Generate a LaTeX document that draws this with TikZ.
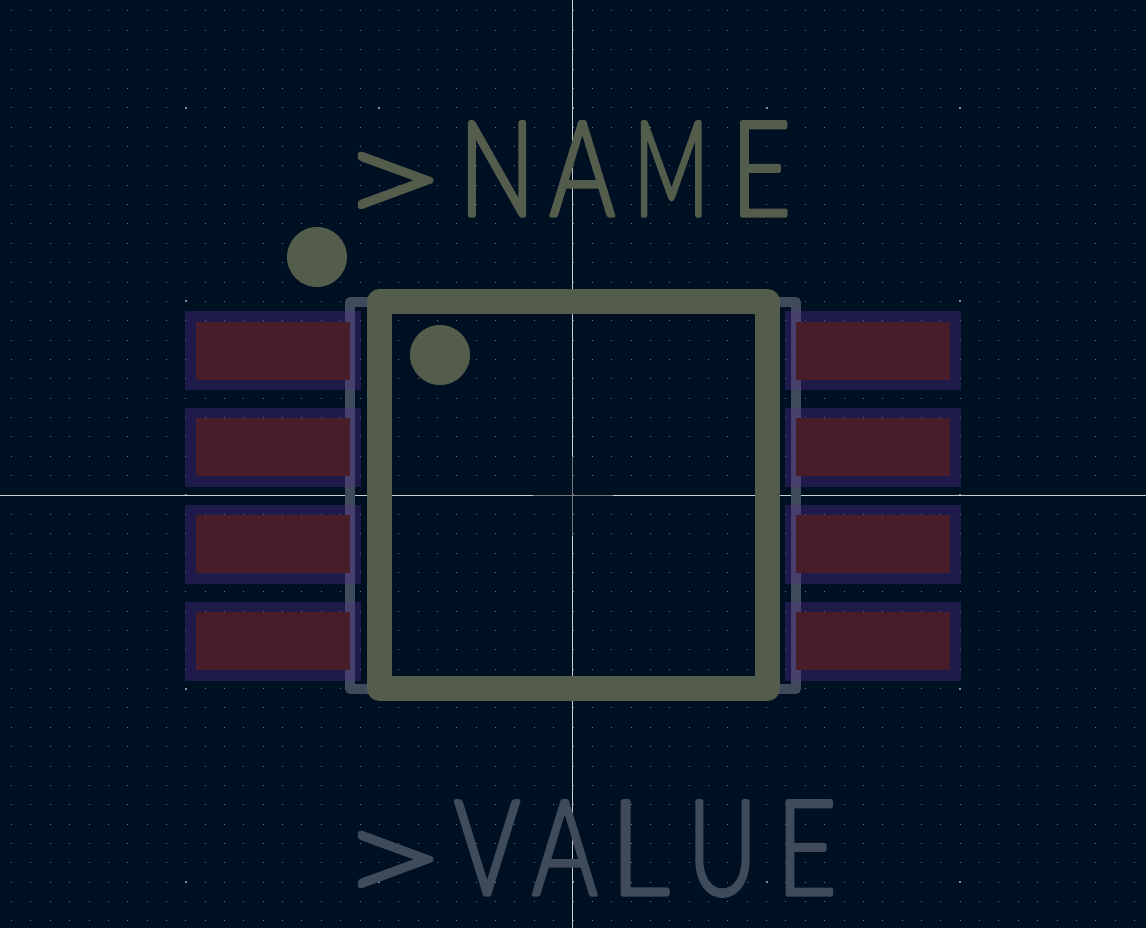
\documentclass[tikz,border=0pt]{standalone}
\usepackage{fontspec}
\usepackage{graphicx}
\newfontfamily\silkfont[FakeStretch=0.78,FakeBold=2.6]{Lato Light}
\newcommand{\fitglyph}[2]{\scalebox{#1}[1]{#2}}
\newcommand{\arrowglyph}{\raisebox{-9pt}{\scalebox{1.78}[1]{>}}}
\definecolor{boardbg}{HTML}{001023}
\definecolor{griddot}{HTML}{6C767D}
\definecolor{gridmajor}{HTML}{888C90}
\definecolor{crossline}{HTML}{C9CDD1}
\definecolor{crossdim}{HTML}{74787C}
\definecolor{silkcol}{HTML}{545C4C}
\definecolor{fabcol}{HTML}{3F4A5A}
\definecolor{maskcol}{HTML}{562F92}
\definecolor{coppercol}{HTML}{461D29}
\tikzset{
	padmask/.style={fill=maskcol, fill opacity=0.35, inner sep=0pt, outer sep=0pt, minimum width=176pt, minimum height=79pt},
	padcopper/.style={fill=coppercol, inner sep=0pt, outer sep=0pt, minimum width=154pt, minimum height=58pt},
	silkdot/.style={circle, fill=silkcol, inner sep=0pt, outer sep=0pt, minimum size=60pt},
	silkbody/.style={draw=silkcol, line width=25pt, line join=round, inner sep=0pt, outer sep=0pt},
	fabbody/.style={draw=fabcol, line width=10pt, line join=round, inner sep=0pt, outer sep=0pt},
	crosswire/.style={draw=crossline, line width=1pt},
	crosscentre/.style={draw=crossdim, line width=1pt},
	silklabel/.style={anchor=base west, inner sep=0pt, outer sep=0pt, font=\silkfont\fontsize{133pt}{133pt}\selectfont}
}
\begin{document}
\begin{tikzpicture}[x=1pt,y=-1pt]
	\useasboundingbox (0,0) rectangle (1146,928);
	\fill[boardbg] (0,0) rectangle (1146,928);
	
	%Disegno la griglia
	\foreach \i in {-29,...,29}{
		\foreach \j in {-25,...,22}{
			\pgfmathtruncatemacro{\major}{(mod(abs(\i),10)==0 && mod(abs(\j),10)==0) ? 1 : 0}
			\ifnum\major=1
				\fill[gridmajor] ({573+\i*19.36-1},{495+\j*19.36-1}) rectangle +(2,2);
			\else
				\fill[griddot] ({573+\i*19.36-0.5},{495+\j*19.36-0.5}) rectangle +(1,1);
			\fi
		}
	}
	
	%Disegno il mirino
	\coordinate (crossW) at (0,495.5);
	\coordinate (crossE) at (1146,495.5);
	\coordinate (crossN) at (572.5,0);
	\coordinate (crossS) at (572.5,928);
	\coordinate (dimW) at (533,495.5);
	\coordinate (dimE) at (613,495.5);
	\coordinate (dimN) at (572.5,456);
	\coordinate (dimS) at (572.5,536);
	\draw[crosswire] (crossW) -- (crossE);
	\draw[crosswire] (crossN) -- (crossS);
	\draw[crosscentre] (dimW) -- (dimE);
	\draw[crosscentre] (dimN) -- (dimS);
	
	%Disegno il contorno sotto il corpo
	\node (fabOutline) at (573,495.6) [fabbody, minimum width=446pt, minimum height=386.7pt]{};
	
	%Disegno i piedini
	\foreach \row/\ypos in {1/350.5,2/447.3,3/544.2,4/641}{
		\node (maskL\row) at (273,\ypos) [padmask]{};
		\node (maskR\row) at (873,\ypos) [padmask]{};
		\node (padL\row) at (273,\ypos) [padcopper]{};
		\node (padR\row) at (873,\ypos) [padcopper]{};
	}
	
	%Disegno il corpo
	\node (chipBody) at (573.5,494.9) [silkbody, minimum width=388pt, minimum height=386.8pt]{};
	\node (pinDotOuter) at (317,257) [silkdot]{};
	\node (pinDotInner) at (440,355) [silkdot]{};
	
	%Disegno le scritte
	\node (nameText) at (339.3,216) [silklabel, text=silkcol]{\special{pdf:code 1 J 1 j}\arrowglyph\kern12.7pt \fitglyph{0.97}{N}\kern14.6pt \fitglyph{0.96}{A}\kern18.6pt \fitglyph{0.8}{M}\kern22pt E};
	\node (valueText) at (339.3,895) [silklabel, text=fabcol]{\special{pdf:code 1 J 1 j}\arrowglyph\kern7.7pt \fitglyph{0.97}{V}\kern12pt \fitglyph{0.96}{A}\kern13.2pt \fitglyph{1.12}{L}\kern18.4pt \fitglyph{0.92}{U}\kern19.4pt E};
\end{tikzpicture}
\end{document}
